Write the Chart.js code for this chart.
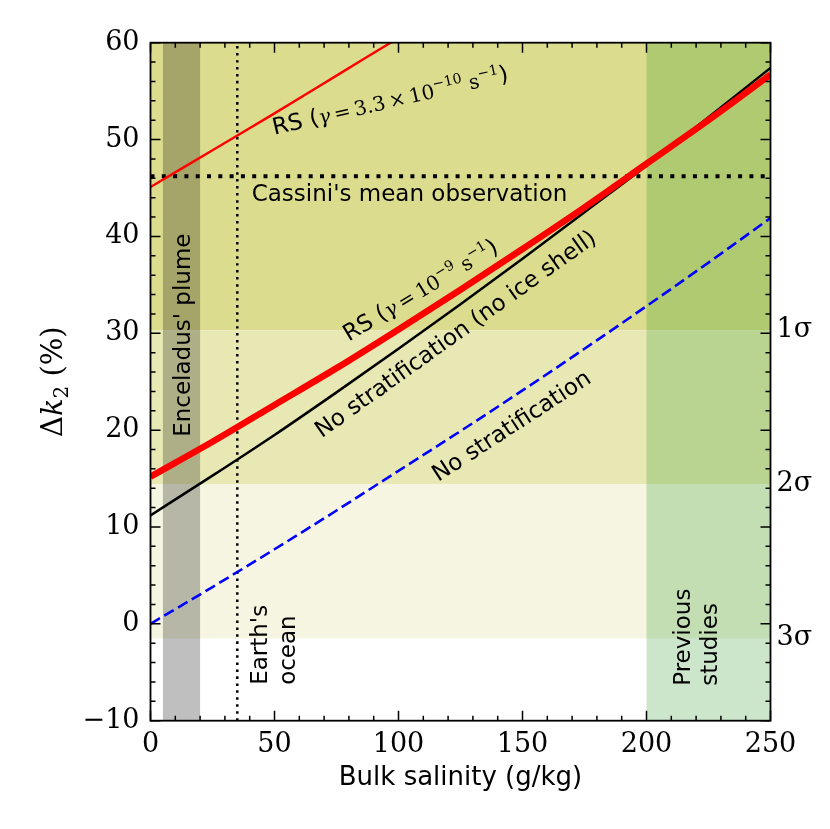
<!DOCTYPE html>
<html>
<head>
<meta charset="utf-8">
<script src="https://cdn.jsdelivr.net/npm/chart.js@4.4.0/dist/chart.umd.min.js"></script>
<style>
  body { margin: 0; background: #fff; }
</style>
</head>
<body>
<canvas id="chart" width="830" height="829"></canvas>
<script>
// values
const salinity = [0, 25, 50, 75, 100, 125, 150, 175, 200, 225, 250];
const noStratification = [0, 3.8, 7.7, 11.7, 15.8, 19.9, 24.1, 28.4, 32.8, 37.3, 41.9];
const noIceShell = [11.2, 15.3, 19.5, 23.9, 28.4, 33.0, 37.7, 42.5, 47.3, 52.3, 57.4];
const rsStrong = [15.2, 18.8, 22.6, 26.4, 30.4, 34.5, 38.7, 43.0, 47.5, 52.0, 56.7];
const salinityWeak = [0, 25, 50, 75, 100];
const rsWeak = [45.1, 48.9, 52.7, 56.6, 60.5];

const cassiniMean = 46.2;
const sigmaLevels = [30.3, 14.4, -1.5];
const sigmaLabels = ['1σ', '2σ', '3σ'];
const earthOcean = 35;
const plumeRange = [5, 20];
const previousRange = [200, 250];

const bandColors = ['#dcdc8e', '#e8e8b4', '#f5f5e1'];

const sans = '23px "DejaVu Sans"';
const serif = '20px "DejaVu Serif"';
const serifIt = 'italic 20px "DejaVu Serif"';
const sup = '14px "DejaVu Serif"';

// text notes in data coordinates: [x, y, angle, align, runs, lineGap]
const notes = [
  [96.6, 54.1, -13, 'center', [['RS (', sans], ['γ', serifIt], ['\u2009=\u20093.3\u2009×\u200910', serif], ['−10', sup, -9], [' s', serif], ['−1', sup, -9], [')', sans]]],
  [40.8, 44.5, 0, 'left', [["Cassini's mean observation", sans]]],
  [108.7, 34.5, -31, 'center', [['RS (', sans], ['γ', serifIt], ['\u2009=\u200910', serif], ['−9', sup, -9], [' s', serif], ['−1', sup, -9], [')', sans]]],
  [122.8, 30.0, -35.5, 'center', [['No stratification (no ice shell)', sans]]],
  [145.4, 20.5, -33, 'center', [['No stratification', sans]]],
  [12.5, 29.8, -90, 'center', [["Enceladus' plume", sans]]],
  [43.6, -6.3, -90, 'left', [["Earth's", sans]]],
  [43.6, -6.3, -90, 'left', [['ocean', sans]], 28],
  [214.2, -6.4, -90, 'left', [['Previous', sans]]],
  [214.2, -6.4, -90, 'left', [['studies', sans]], 27],
];

function drawRuns(ctx, runs, px, py, angle, align, shift) {
  ctx.save();
  ctx.translate(px, py);
  ctx.rotate(angle * Math.PI / 180);
  ctx.fillStyle = '#000';
  ctx.textAlign = 'left';
  ctx.textBaseline = 'alphabetic';
  const widths = runs.map(r => { ctx.font = r[1]; return ctx.measureText(r[0]).width; });
  const total = widths.reduce((a, b) => a + b, 0);
  let cx = align === 'left' ? 0 : -total / 2;
  runs.forEach((r, i) => {
    ctx.font = r[1];
    ctx.fillText(r[0], cx, 8 + (shift || 0) + (r[2] || 0));
    cx += widths[i];
  });
  ctx.restore();
}

const decor = {
  id: 'decor',
  beforeDatasetsDraw(chart) {
    const {ctx, chartArea: a, scales: {x, y}} = chart;
    ctx.save();
    const edges = [60].concat(sigmaLevels);
    bandColors.forEach((c, i) => {
      const y0 = y.getPixelForValue(edges[i]), y1 = y.getPixelForValue(edges[i + 1]);
      ctx.fillStyle = c;
      ctx.fillRect(a.left, y0, a.right - a.left, y1 - y0);
    });
    let x0 = x.getPixelForValue(plumeRange[0]), x1 = x.getPixelForValue(plumeRange[1]);
    ctx.fillStyle = 'rgba(0,0,0,0.25)';
    ctx.fillRect(x0, a.top, x1 - x0, a.bottom - a.top);
    x0 = x.getPixelForValue(previousRange[0]); x1 = x.getPixelForValue(previousRange[1]);
    ctx.fillStyle = 'rgba(0,128,0,0.2)';
    ctx.fillRect(x0, a.top, x1 - x0, a.bottom - a.top);
    ctx.restore();
  },
  afterDatasetsDraw(chart) {
    const {ctx, chartArea: a, scales: {x, y}} = chart;
    ctx.save();
    ctx.strokeStyle = '#000';
    ctx.lineWidth = 1.5;
    ctx.beginPath();
    for (let v = 0; v <= 250; v += 10) {
      const p = x.getPixelForValue(v), len = v % 50 === 0 ? 10 : 5;
      ctx.moveTo(p, a.bottom); ctx.lineTo(p, a.bottom - len);
      ctx.moveTo(p, a.top); ctx.lineTo(p, a.top + len);
    }
    for (let v = -10; v <= 60; v += 2) {
      const p = y.getPixelForValue(v), len = v % 10 === 0 ? 10 : 5;
      ctx.moveTo(a.left, p); ctx.lineTo(a.left + len, p);
      ctx.moveTo(a.right, p); ctx.lineTo(a.right - len, p);
    }
    ctx.stroke();
    ctx.lineWidth = 1.8;
    ctx.strokeRect(a.left, a.top, a.right - a.left, a.bottom - a.top);

    notes.forEach(n => {
      drawRuns(ctx, n[4], x.getPixelForValue(n[0]), y.getPixelForValue(n[1]), n[2], n[3], n[5]);
    });

    // y axis title
    drawRuns(ctx, [['Δ', '29px "DejaVu Serif"'], ['k', 'italic 29px "DejaVu Serif"'], ['2', '20px "DejaVu Serif"', 6], [' (%)', '29px "DejaVu Serif"']],
      a.left - 99, (a.top + a.bottom) / 2, -90, 'center', 2);
    ctx.restore();
  }
};

const pts = (xs, ys) => xs.map((v, i) => ({x: v, y: ys[i]}));
const tickFont = {family: 'DejaVu Serif', size: 27};

new Chart(document.getElementById('chart'), {
  type: 'line',
  data: {
    datasets: [
      {data: pts(salinityWeak, rsWeak), borderColor: '#ff0000', borderWidth: 2.4, order: 0},
      {data: pts(salinity, rsStrong), borderColor: '#ff0000', borderWidth: 6.5, order: 1},
      {data: pts(salinity, noIceShell), borderColor: '#000000', borderWidth: 2.5, order: 2},
      {data: pts(salinity, noStratification), borderColor: '#0000ff', borderWidth: 2.6, borderDash: [11, 5], order: 3},
      {data: [{x: 0, y: cassiniMean}, {x: 250, y: cassiniMean}], borderColor: '#000000', borderWidth: 4, borderDash: [4, 7.3], order: 4},
      {data: [{x: earthOcean, y: -10}, {x: earthOcean, y: 60}], borderColor: '#000000', borderWidth: 2.5, borderDash: [2.5, 4.5], order: 5},
    ]
  },
  options: {
    responsive: false,
    animation: false,
    layout: {padding: {top: 42.7, left: 0, right: 0, bottom: 0}},
    elements: {point: {radius: 0}, line: {fill: false, cubicInterpolationMode: 'monotone'}},
    plugins: {legend: {display: false}, tooltip: {enabled: false}},
    scales: {
      x: {
        type: 'linear', min: 0, max: 250,
        grid: {display: false, drawTicks: false},
        border: {display: false},
        ticks: {stepSize: 50, color: '#000', font: tickFont, padding: 8, maxRotation: 0, autoSkip: false},
        title: {display: true, text: 'Bulk salinity (g/kg)', color: '#000', font: {family: 'DejaVu Sans', size: 26}, padding: {top: 0, bottom: 35}},
        afterFit: s => { s.height = 108.3; }
      },
      y: {
        type: 'linear', min: -10, max: 60,
        grid: {display: false, drawTicks: false},
        border: {display: false},
        ticks: {stepSize: 10, color: '#000', font: tickFont, padding: 11, autoSkip: false,
          callback: v => v < 0 ? '\u2212' + (-v) : String(v)},
        afterFit: s => { s.width = 150.5; }
      },
      y2: {
        type: 'linear', position: 'right', min: -10, max: 60,
        grid: {display: false, drawTicks: false},
        border: {display: false},
        afterBuildTicks: s => { s.ticks = sigmaLevels.map(v => ({value: v})); },
        ticks: {color: '#000', font: tickFont, padding: 6, autoSkip: false,
          callback: (v, i) => sigmaLabels[i]},
        afterFit: s => { s.width = 59.5; }
      }
    }
  },
  plugins: [decor]
});
</script>
</body>
</html>
